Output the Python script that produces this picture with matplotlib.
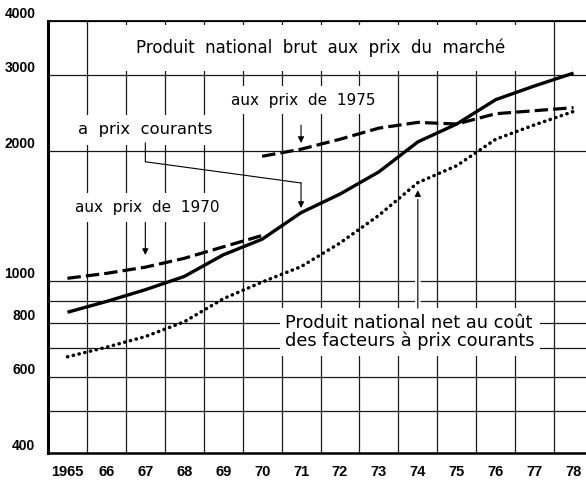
import numpy as np
import matplotlib
matplotlib.use("Agg")
import matplotlib.pyplot as plt
import matplotlib.patheffects as pe
from matplotlib.ticker import NullLocator, NullFormatter, FixedLocator

# data (millions, log scale)
years = list(range(1965, 1979))
pnb_courants = [847, 897, 955, 1025, 1150, 1250, 1440, 1590, 1790, 2100, 2310, 2630, 2830, 3030]
years_1970 = list(range(1965, 1971))
pnb_prix_1970 = [1015, 1042, 1077, 1129, 1200, 1275]
years_1975 = list(range(1970, 1979))
pnb_prix_1975 = [1945, 2020, 2130, 2260, 2330, 2310, 2440, 2480, 2520]
pnn_facteurs = [668, 703, 744, 805, 910, 995, 1080, 1225, 1420, 1690, 1850, 2130, 2300, 2470]

ytick_vals = [400, 500, 600, 700, 800, 900, 1000, 2000, 3000, 4000]
ytick_labels = ["400", "", "600", "", "800", "", "1000", "2000", "3000", "4000"]
xtick_labels = ["1965"] + [str(y)[2:] for y in years[1:]]

fig = plt.figure(figsize=(5.86, 4.83), dpi=100)
ax = fig.add_axes([48/586, 30/483, 538/586, 432/483])

ax.set_yscale("log")
ax.set_xlim(1964.5, 1978.32)
ax.set_ylim(400, 4000)

# grid: horizontal at value lines, vertical between years
ax.set_yticks(ytick_vals)
ax.set_yticklabels(ytick_labels)
ax.yaxis.set_minor_locator(NullLocator())
ax.yaxis.set_minor_formatter(NullFormatter())
ax.set_xticks(years)
ax.set_xticklabels(xtick_labels)
ax.xaxis.set_minor_locator(FixedLocator(np.arange(1965.5, 1978, 1.0)))
ax.set_axisbelow(True)
ax.grid(which="major", axis="y", color="#1a1a1a", lw=0.9)
ax.grid(which="minor", axis="x", color="#1a1a1a", lw=0.9)
ax.tick_params(which="both", length=0)
ax.tick_params(axis="x", pad=9)
ax.tick_params(axis="y", pad=9)

for lab in ax.get_yticklabels():
    lab.set_fontfamily(["Liberation Sans", "DejaVu Sans"])
    lab.set_fontweight("bold")
    lab.set_fontsize(10)
    lab.set_verticalalignment("bottom")
for lab in ax.get_xticklabels():
    lab.set_fontfamily(["Liberation Sans Narrow", "Liberation Sans", "DejaVu Sans"])
    lab.set_fontweight("bold")
    lab.set_fontsize(10.5)

ax.spines["right"].set_visible(False)
ax.spines["left"].set_linewidth(2.2)
ax.spines["bottom"].set_linewidth(1.8)
ax.spines["top"].set_linewidth(1.3)

# series
ax.plot(years, pnb_courants, color="black", lw=2.4, solid_capstyle="butt", zorder=4)
ax.plot(years_1970, pnb_prix_1970, color="black", lw=2.3, dashes=(4.2, 1.6), zorder=4)
ax.plot(years_1975, pnb_prix_1975, color="black", lw=2.3, dashes=(4.2, 1.6), zorder=4)
ax.plot(years, pnn_facteurs, color="black", lw=2.5, linestyle=(0, (0.1, 1.6)),
        dash_capstyle="round", zorder=4)

# labels
txt = dict(family="DejaVu Sans", color="black", zorder=3)
box = dict(boxstyle="square,pad=0.45", fc="white", ec="none")
ax.text(0.507, 0.9375, "Produit  national  brut  aux  prix  du  marché", transform=ax.transAxes,
        ha="center", va="center", fontsize=12,
        bbox=dict(boxstyle="square,pad=0.8", fc="white", ec="none"), **txt)
ax.text(0.474, 0.817, "aux  prix  de  1975", transform=ax.transAxes,
        ha="center", va="center", fontsize=11, bbox=box, **txt)
ax.text(0.180, 0.748, "a  prix  courants", transform=ax.transAxes,
        ha="center", va="center", fontsize=11.8, bbox=box, **txt)
ax.text(0.184, 0.569, "aux  prix  de  1970", transform=ax.transAxes,
        ha="center", va="center", fontsize=11, bbox=box, **txt)
ax.text(0.4405, 0.280, "Produit national net au coût\ndes facteurs à prix courants",
        transform=ax.transAxes, ha="left", va="center", fontsize=12.8, linespacing=1.0,
        bbox=dict(boxstyle="square,pad=0.3", fc="white", ec="none"), **txt)

arrow = dict(arrowstyle="-|>", color="black", lw=0.8, mutation_scale=9, shrinkA=0, shrinkB=0)
ax.annotate("", xy=(1971.0, 2087), xytext=(1971.0, 2296), arrowprops=arrow, zorder=5)
ax.annotate("", xy=(1967.0, 1149), xytext=(1967.0, 1368), arrowprops=arrow, zorder=5)
ax.plot([1967.0, 1967.0, 1971.0], [2087, 1889, 1687], color="black", lw=0.8, zorder=5)
ax.annotate("", xy=(1971.0, 1476), xytext=(1971.0, 1687), arrowprops=arrow, zorder=5)
ax.annotate("", xy=(1974.0, 1624), xytext=(1974.0, 866),
            arrowprops=dict(arrow, path_effects=[pe.withStroke(linewidth=4, foreground="white")]),
            zorder=3)

fig.savefig("out.png", dpi=100)
